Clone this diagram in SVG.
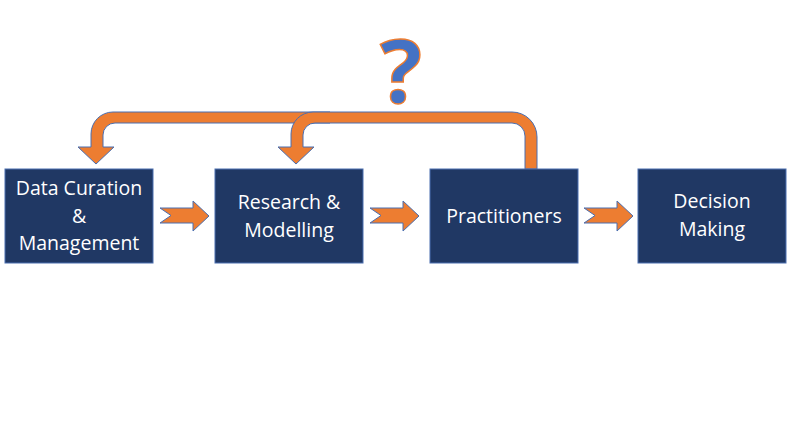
<svg xmlns="http://www.w3.org/2000/svg" width="790" height="444" viewBox="0 0 790 444">
<style>
.box{fill:#203864;stroke:#4A6EB0;stroke-width:1}
.lbl{font-family:"Open Sans","Liberation Sans",sans-serif;font-size:19.5px;fill:#ffffff;text-anchor:middle}
.arr{fill:#ED7D31;stroke:#4A6EB0;stroke-width:1;stroke-linejoin:miter}
.q{font-family:"Open Sans","Liberation Sans",sans-serif;font-size:88px;font-weight:bold;fill:#4472C4;stroke:#ED7D31;stroke-width:1.5;text-anchor:middle}
</style>
<rect width="790" height="444" fill="#ffffff"/>
<g id="connectors">
<path class="arr" d="M330,112 L113,112 A22,22 0 0 0 91,134 L91,147 L78,147 L96,164 L114,147 L103,147 L103,135 A12,12 0 0 1 115,123 L330,123 Z"/>
<path class="arr" d="M537,169 L537,137 A25,25 0 0 0 512,112 L313,112 A22,22 0 0 0 291,134 L291,147 L278,147 L296,164 L314,147 L303,147 L303,135 A12,12 0 0 1 315,123 L512,123 A13,13 0 0 1 525,136 L525,169 Z"/>
<path class="arr" d="M160,208 L193,208 L193,201 L209,216 L193,231 L193,223 L160,223 L171,215.5 Z"/>
<path class="arr" d="M370,208 L403,208 L403,201 L419,216 L403,231 L403,223 L370,223 L381,215.5 Z"/>
<path class="arr" d="M584,208 L617,208 L617,201 L633,216 L617,231 L617,223 L584,223 L595,215.5 Z"/>
</g>
<text class="q" x="401" y="103">?</text>
<g id="data-curation">
<rect class="box" x="5" y="169" width="148" height="94"/>
<text class="lbl" x="79" y="195">Data Curation</text>
<text class="lbl" x="79" y="223">&amp;</text>
<text class="lbl" x="79" y="250">Management</text>
</g>
<g id="research">
<rect class="box" x="215" y="169" width="148" height="94"/>
<text class="lbl" x="289" y="209">Research &amp;</text>
<text class="lbl" x="289" y="237">Modelling</text>
</g>
<g id="practitioners">
<rect class="box" x="430" y="169" width="148" height="94"/>
<text class="lbl" x="504" y="223">Practitioners</text>
</g>
<g id="decision">
<rect class="box" x="638" y="169" width="148" height="94"/>
<text class="lbl" x="712" y="208">Decision</text>
<text class="lbl" x="712" y="236">Making</text>
</g>
</svg>
